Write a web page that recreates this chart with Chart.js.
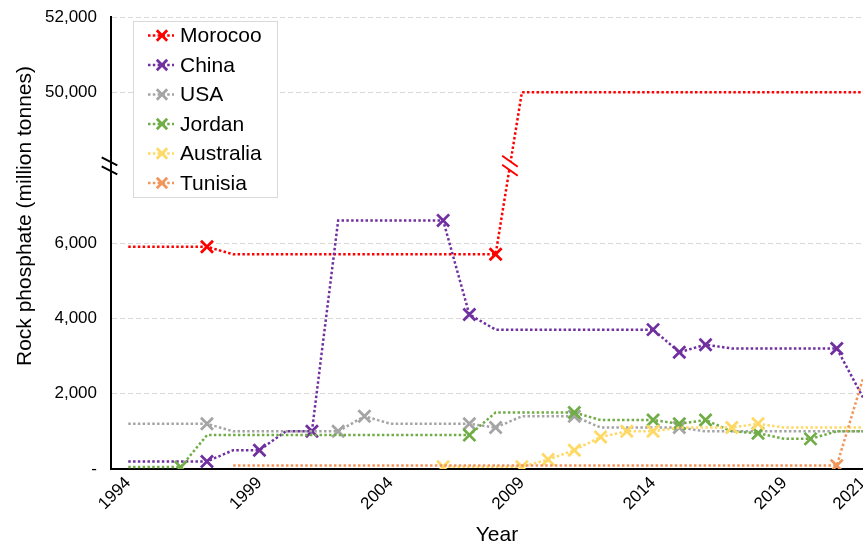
<!DOCTYPE html>
<html><head><meta charset="utf-8">
<script src="https://cdn.jsdelivr.net/npm/chart.js@4.4.1/dist/chart.umd.min.js"></script>
<style>html,body{margin:0;padding:0;background:#fff;overflow:hidden}#wrap{width:863px;height:544px;position:relative}</style>
</head><body><div id="wrap"><canvas id="c" width="863" height="544"></canvas></div>
<script>
// ---- data (one value per year position, left to right) ----
const seriesNames = ['Morocoo', 'China', 'USA', 'Jordan', 'Australia', 'Tunisia'];
const seriesColors = ['#FF0000', '#7030A0', '#A5A5A5', '#70AD47', '#FFD966', '#F1955A'];

const morocco = [5900,5900,5900,5900, 5700,5700,5700,5700,5700,5700,5700,5700,5700,5700,5700,
                 50000,50000,50000,50000,50000,50000,50000,50000,50000,50000,50000,50000,50000,50000];
const china = [200,200,200,200, 500,500, 1000,1000, 6600,6600,6600,6600,6600, 4100,
               3700,3700,3700,3700,3700,3700,3700, 3100, 3300, 3200,3200,3200,3200,3200, 1900];
const usa = [1200,1200,1200,1200, 1000,1000,1000,1000,1000, 1400, 1200,1200,1200,1200, 1100,
             1400,1400,1400, 1100,1100,1100,1100, 1000,1000,1000,1000,1000,1000,1000];
const jordan = [50,50,50, 900,900,900,900,900,900,900,900,900,900,900, 1500,1500,1500,1500,
                1300,1300,1300, 1200, 1300, 1000, 950, 800, 800, 1000, 1000];
const australia = [null,null,null,null,null,null,null,null,null,null,null,null,
                   60,60,60,60, 250, 500, 850, 1000, 1000, 1100, 1100, 1100, 1200, 1100,1100,1100,1100];
const tunisia = [null,null,null,null, 90,90,90,90,90,90,90,90,90,90,90,90,90,90,90,90,90,90,90,90,90,90,90,90, 2400];

// positions that carry an "x" marker
const moroccoMarks = [3, 14];
const chinaMarks = [3, 5, 7, 12, 13, 20, 21, 22, 27];
const usaMarks = [3, 8, 9, 13, 14, 17, 21];
const jordanMarks = [2, 13, 17, 20, 21, 22, 24, 26];
const australiaMarks = [12, 15, 16, 17, 18, 19, 20, 23, 24];
const tunisiaMarks = [27];

// axis ticks
const xTickIndex = [0, 5, 10, 15, 20, 25, 28];
const xTickText = ['1994', '1999', '2004', '2009', '2014', '2019', '2021'];
const yTickValues = [0, 2000, 4000, 6000, 50000, 52000];
const yTickText = ['-', '2,000', '4,000', '6,000', '50,000', '52,000'];

// broken y axis: values above the break are shifted down
const BREAK_FROM = 40000, BREAK_SHIFT = 40000, BREAK_AT = 8050;
function toPlot(v) { return v == null ? null : (v >= BREAK_FROM ? v - BREAK_SHIFT : v); }

const seriesValues = [morocco, china, usa, jordan, australia, tunisia];
const seriesMarks = [moroccoMarks, chinaMarks, usaMarks, jordanMarks, australiaMarks, tunisiaMarks];

const FONT = '"Liberation Sans", Arial, sans-serif';
const DOT = 2.5;

const datasets = seriesNames.map((name, k) => ({
  label: name,
  data: seriesValues[k].map((v, i) => ({ x: i, y: toPlot(v) })),
  borderColor: seriesColors[k],
  backgroundColor: seriesColors[k],
  borderWidth: DOT,
  borderDash: [DOT, 2.3],
  borderCapStyle: 'butt',
  tension: 0,
  fill: false,
  spanGaps: false,
  pointStyle: 'crossRot',
  pointRadius: seriesValues[k].map((v, i) => seriesMarks[k].includes(i) ? 8.5 : 0),
  pointHoverRadius: 0,
  pointBorderWidth: 2.75,
  pointBorderColor: seriesColors[k],
  order: seriesNames.length - k
}));

function drawBreak(ctx, x, y, color, gap, dy) {
  const dx = 7.8, sep = 9;
  ctx.save();
  if (gap) {
    ctx.fillStyle = '#fff';
    ctx.beginPath();
    ctx.moveTo(x - dx, y - sep / 2 - dy); ctx.lineTo(x + dx, y - sep / 2 + dy);
    ctx.lineTo(x + dx, y + sep / 2 + dy); ctx.lineTo(x - dx, y + sep / 2 - dy);
    ctx.closePath(); ctx.fill();
  }
  ctx.strokeStyle = color; ctx.lineWidth = 2;
  ctx.beginPath();
  ctx.moveTo(x - dx, y - sep / 2 - dy); ctx.lineTo(x + dx, y - sep / 2 + dy);
  ctx.moveTo(x - dx, y + sep / 2 - dy); ctx.lineTo(x + dx, y + sep / 2 + dy);
  ctx.stroke();
  ctx.restore();
}

const decor = {
  id: 'decor',
  afterDraw(chart) {
    const ctx = chart.ctx, xs = chart.scales.x, ys = chart.scales.y;
    // axis break on y axis
    drawBreak(ctx, chart.chartArea.left - 1.5, ys.getPixelForValue(BREAK_AT), '#000', false, 4);
    // break on Morocco's jump
    const m = seriesValues[0];
    for (let i = 0; i < m.length - 1; i++) {
      const a = toPlot(m[i]), b = toPlot(m[i + 1]);
      if (a < BREAK_AT && b > BREAK_AT) {
        const t = (BREAK_AT - a) / (b - a);
        const px = xs.getPixelForValue(i + t);
        drawBreak(ctx, px, ys.getPixelForValue(BREAK_AT), seriesColors[0], true, 5.5);
      }
    }
    // legend
    ctx.save();
    ctx.fillStyle = '#fff';
    ctx.fillRect(133.5, 21.5, 144, 176);
    ctx.strokeStyle = '#D9D9D9'; ctx.lineWidth = 1;
    ctx.strokeRect(133.5, 21.5, 144, 176);
    chart.data.datasets.forEach((ds, i) => {
      const cy = 35.5 + i * 29.5;
      ctx.strokeStyle = ds.borderColor; ctx.lineWidth = DOT; ctx.setLineDash([DOT, 2.3]);
      ctx.beginPath(); ctx.moveTo(148, cy); ctx.lineTo(174, cy); ctx.stroke();
      ctx.setLineDash([]); ctx.lineWidth = 2.75;
      const r = 5.2, cx = 162;
      ctx.beginPath();
      ctx.moveTo(cx - r, cy - r); ctx.lineTo(cx + r, cy + r);
      ctx.moveTo(cx - r, cy + r); ctx.lineTo(cx + r, cy - r);
      ctx.stroke();
      ctx.fillStyle = '#000'; ctx.font = '21px ' + FONT; ctx.textBaseline = 'middle'; ctx.textAlign = 'left';
      ctx.fillText(ds.label, 180, cy + 1);
    });
    // axis titles
    ctx.fillStyle = '#000'; ctx.font = '21px ' + FONT; ctx.textAlign = 'center'; ctx.textBaseline = 'alphabetic';
    ctx.fillText('Year', 497, 541);
    ctx.translate(31, 216); ctx.rotate(-Math.PI / 2);
    ctx.fillText('Rock phosphate (million tonnes)', 0, 0);
    ctx.restore();
  }
};

new Chart(document.getElementById('c'), {
  type: 'line',
  data: { datasets },
  options: {
    responsive: false, animation: false, events: [], devicePixelRatio: 1,
    layout: { autoPadding: false, padding: { top: 17, left: 0, right: 0, bottom: 0 } },
    plugins: { legend: { display: false }, tooltip: { enabled: false } },
    scales: {
      x: {
        type: 'linear', min: -0.657, max: 28,
        afterBuildTicks: s => { s.ticks = xTickIndex.map(v => ({ value: v })); },
        afterFit: s => { s.height = 75; s.paddingLeft = 0; s.paddingRight = 0; },
        ticks: {
          autoSkip: false, minRotation: 45, maxRotation: 45, padding: 4, color: '#000',
          font: { family: FONT, size: 17 },
          callback: v => { const k = xTickIndex.indexOf(v); return k < 0 ? '' : xTickText[k]; }
        },
        grid: { display: false, drawTicks: false },
        border: { display: true, color: '#000', width: 2 }
      },
      y: {
        type: 'linear', min: 0, max: 12000,
        afterBuildTicks: s => { s.ticks = yTickValues.map(v => ({ value: toPlot(v) })); },
        afterFit: s => { s.width = 111; s.paddingTop = 0; s.paddingBottom = 0; },
        ticks: {
          padding: 14, color: '#000', font: { family: FONT, size: 17 },
          callback: v => { const k = yTickValues.map(toPlot).indexOf(v); return k < 0 ? '' : yTickText[k]; }
        },
        grid: { color: '#D9D9D9', lineWidth: 1, drawTicks: false },
        border: { display: true, color: '#000', width: 2, dash: [5, 3] }
      }
    }
  },
  plugins: [decor]
});
</script></body></html>
